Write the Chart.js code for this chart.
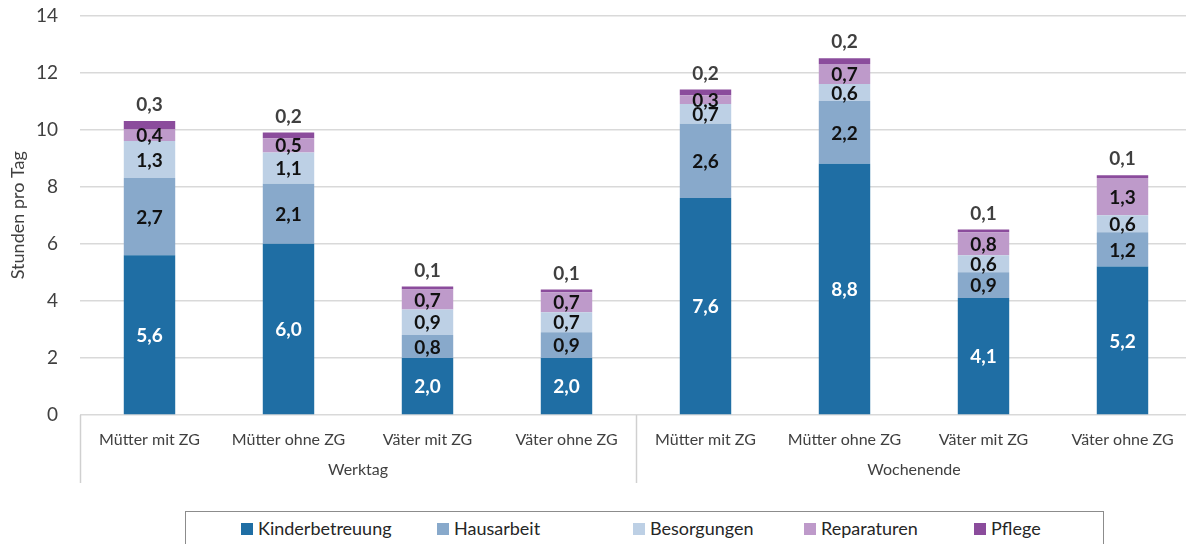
<!DOCTYPE html>
<html>
<head>
<meta charset="utf-8">
<script src="https://cdn.jsdelivr.net/npm/chart.js@4"></script>
<style>
    html, body { margin: 0; padding: 0; background: #fff; overflow: hidden; }
    #wrap { position: relative; width: 1186px; height: 544px; overflow: hidden; }
    #timeChart { position: absolute; left: 0; top: -18px; }
    #legend {
        position: absolute; left: 185px; top: 511px; width: 919px; height: 40px;
        border: 1px solid #8c8c8c; box-sizing: border-box; background: #fff;
        font-family: Lato, sans-serif; font-size: 18px; color: #262626;
    }
    #legend .item { position: absolute; top: 5px; white-space: nowrap; }
    #legend .sw { display: inline-block; width: 12px; height: 12px; margin-right: 5px; vertical-align: 0px; }
</style>
</head>
<body>
<div id="wrap">
    <canvas id="timeChart" width="1192" height="562"></canvas>
    <div id="legend"></div>
</div>
<script>
// Stunden pro Tag, gestapelt
const categories = ['Mütter mit ZG', 'Mütter ohne ZG', 'Väter mit ZG', 'Väter ohne ZG',
                    'Mütter mit ZG', 'Mütter ohne ZG', 'Väter mit ZG', 'Väter ohne ZG'];
const groups = ['Werktag', 'Wochenende'];

const kinderbetreuung = [5.6, 6.0, 2.0, 2.0, 7.6, 8.8, 4.1, 5.2];
const hausarbeit      = [2.7, 2.1, 0.8, 0.9, 2.6, 2.2, 0.9, 1.2];
const besorgungen     = [1.3, 1.1, 0.9, 0.7, 0.7, 0.6, 0.6, 0.6];
const reparaturen     = [0.4, 0.5, 0.7, 0.7, 0.3, 0.7, 0.8, 1.3];
const pflege          = [0.3, 0.2, 0.1, 0.1, 0.2, 0.2, 0.1, 0.1];

const yTicks = [0, 2, 4, 6, 8, 10, 12, 14];

const series = [
    { label: 'Kinderbetreuung', data: kinderbetreuung, color: '#1F6EA4', text: '#ffffff' },
    { label: 'Hausarbeit',      data: hausarbeit,      color: '#88A9CB', text: '#111111' },
    { label: 'Besorgungen',     data: besorgungen,     color: '#BDD0E5', text: '#111111' },
    { label: 'Reparaturen',     data: reparaturen,     color: '#BE9ACA', text: '#111111' },
    { label: 'Pflege',          data: pflege,          color: '#8B4C9C', text: '#404040' }
];

const FONT = 'Lato, sans-serif';
const fmt = v => v.toFixed(1).replace('.', ',');

// value labels inside segments, last series above the bar
const valueLabels = {
    id: 'valueLabels',
    afterDatasetsDraw(chart) {
        const ctx = chart.ctx;
        ctx.save();
        ctx.font = 'bold 19px ' + FONT;
        ctx.textAlign = 'center';
        ctx.textBaseline = 'middle';
        chart.data.datasets.forEach((ds, di) => {
            const meta = chart.getDatasetMeta(di);
            meta.data.forEach((bar, i) => {
                const v = ds.data[i];
                ctx.fillStyle = series[di].text;
                if (di === series.length - 1) {
                    ctx.fillText(fmt(v), bar.x, bar.y - 16);
                } else {
                    ctx.fillText(fmt(v), bar.x, (bar.y + bar.base) / 2 + 1);
                }
            });
        });
        ctx.restore();
    }
};

// group labels and separators below the x axis
const groupAxis = {
    id: 'groupAxis',
    afterDraw(chart) {
        const ctx = chart.ctx;
        const area = chart.chartArea;
        const step = (area.right - area.left) / categories.length;
        const per = categories.length / groups.length;
        ctx.save();
        ctx.strokeStyle = '#d0d0d0';
        ctx.lineWidth = 1.5;
        for (let g = 0; g <= groups.length; g++) {
            const px = Math.round(area.left + g * per * step) + 0.5;
            ctx.beginPath();
            ctx.moveTo(px, area.bottom);
            ctx.lineTo(px, area.bottom + 68);
            ctx.stroke();
        }
        ctx.fillStyle = '#404040';
        ctx.font = '16px ' + FONT;
        ctx.textAlign = 'center';
        ctx.textBaseline = 'middle';
        groups.forEach((g, gi) => {
            const cx = area.left + (gi + 0.5) * per * step;
            ctx.fillText(g, cx, area.bottom + 55);
        });
        ctx.restore();
    }
};

function initTimeChart() {
    const ctx = document.getElementById('timeChart');

    new Chart(ctx.getContext('2d'), {
        type: 'bar',
        data: {
            labels: categories,
            datasets: series.map(s => ({
                label: s.label,
                data: s.data,
                backgroundColor: s.color,
                borderWidth: 0,
                barPercentage: 0.37,
                categoryPercentage: 1
            }))
        },
        options: {
            responsive: false,
            animation: false,
            layout: { padding: { top: 15, right: 0, bottom: 0, left: 0 } },
            plugins: {
                legend: { display: false },
                tooltip: { enabled: false }
            },
            scales: {
                x: {
                    stacked: true,
                    grid: { display: false },
                    border: { display: false },
                    ticks: { font: { size: 16, family: FONT }, color: '#404040', padding: 7, maxRotation: 0 },
                    afterFit(scale) { scale.height = 129; }
                },
                y: {
                    stacked: true,
                    min: 0,
                    max: 14,
                    afterBuildTicks(scale) { scale.ticks = yTicks.map(v => ({ value: v })); },
                    ticks: { font: { size: 19, family: FONT }, color: '#404040', padding: 22 },
                    grid: { color: '#d9d9d9', lineWidth: 1.5, drawTicks: false },
                    border: { display: false },
                    title: {
                        display: true,
                        text: 'Stunden pro Tag',
                        font: { size: 18, family: FONT },
                        color: '#404040',
                        padding: { top: 7, bottom: 0 }
                    },
                    afterFit(scale) { scale.width = 80; }
                }
            }
        },
        plugins: [valueLabels, groupAxis]
    });

    // legend
    const legend = document.getElementById('legend');
    const lefts = [55, 251, 447, 618, 788];
    series.forEach((s, i) => {
        const el = document.createElement('div');
        el.className = 'item';
        el.style.left = lefts[i] + 'px';
        el.innerHTML = '<span class="sw" style="background:' + s.color + '"></span>' + s.label;
        legend.appendChild(el);
    });
}

document.addEventListener('DOMContentLoaded', initTimeChart);
</script>
</body>
</html>
